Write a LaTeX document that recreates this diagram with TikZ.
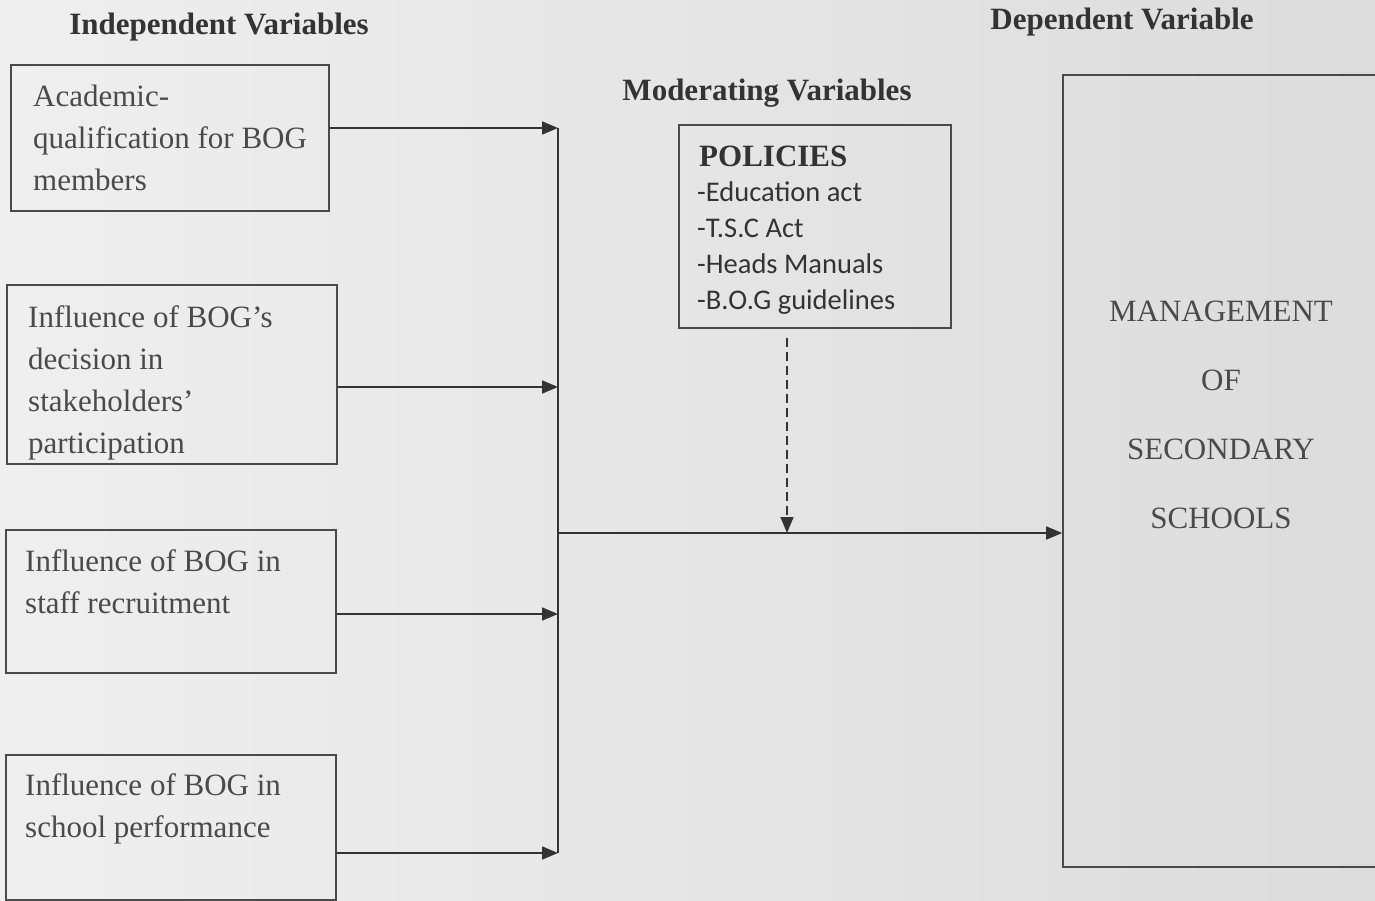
\documentclass[tikz,border=0pt]{standalone}
\usepackage{fontspec}
\setmainfont{Liberation Serif}
\newfontfamily\policyfont{Carlito}
\usepackage{tikz}
\usetikzlibrary{arrows.meta}
\definecolor{ink}{HTML}{333333}
\definecolor{faint}{HTML}{4A4A4A}
\definecolor{paperL}{HTML}{EFEFEF}
\definecolor{paperM}{HTML}{DEDEDE}
\definecolor{paperR}{HTML}{DCDCDC}
\tikzstyle{frame}=[rectangle, draw=faint, line width=1.6pt, inner sep=0pt]
\tikzstyle{boxtext}=[align=left, anchor=north west, inner sep=0pt, text=faint, font=\fontsize{31}{42}\selectfont]
\tikzstyle{listtext}=[align=left, anchor=north west, inner sep=0pt, text=ink, font=\policyfont\fontsize{28.5}{36}\selectfont]
\tikzstyle{heading}=[anchor=base, inner sep=0pt, text=ink, font=\bfseries\fontsize{31}{36}\selectfont]
\tikzstyle{link}=[draw=ink, line width=1.8pt, -{Triangle[length=16pt, width=13pt]}]

\begin{document}
\begin{tikzpicture}[x=1pt, y=-1pt]
                    \useasboundingbox (0,0) rectangle (1375,901);
                    \shade[left color=paperL, middle color=paperM, right color=paperR] (0,0) rectangle (1375,901);
                    \node[heading] (indep) at (219,35) {Independent Variables};
                    \node[heading] (moder) at (767,101) {Moderating Variables};
                    \node[heading] (dep) at (1122,30) {Dependent Variable};
                    \node[frame, minimum width=318, minimum height=146] (acad) at (170,138) {};
                    \node[frame, minimum width=330, minimum height=179] (decis) at (172,374.5) {};
                    \node[frame, minimum width=330, minimum height=143] (staff) at (171,601.5) {};
                    \node[frame, minimum width=330, minimum height=145] (perf) at (171,827.5) {};
                    \node[frame, minimum width=272, minimum height=203] (policies) at (815,226.5) {};
                    \node[frame, minimum width=337, minimum height=792] (mgmt) at (1231.5,471) {};
                    \node[boxtext] (acadtext) at (33,85) {Academic-\\qualification for BOG\\members};
                    \node[boxtext] (decistext) at (28,305) {Influence of BOG’s\\decision in\\stakeholders’\\participation};
                    \node[boxtext] (stafftext) at (25,549) {Influence of BOG in\\staff recruitment};
                    \node[boxtext] (perftext) at (25,773) {Influence of BOG in\\school performance};
                    \node[boxtext, text=ink, font=\bfseries\fontsize{31}{36}\selectfont] (poltitle) at (699,146) {POLICIES};
                    \node[listtext] (pollist) at (697,182) {-Education act\\-T.S.C Act\\-Heads Manuals\\-B.O.G guidelines};
                    \node[anchor=north, align=center, inner sep=0pt, text=faint, font=\fontsize{31}{69}\selectfont] (mgmttext) at (1221,301) {MANAGEMENT\\OF\\SECONDARY\\SCHOOLS};
                    \coordinate (j1) at (558,128);
                    \coordinate (j2) at (558,387);
                    \coordinate (j3) at (558,614);
                    \coordinate (j4) at (558,853);
                    \coordinate (jm) at (558,533);
                    \coordinate (md) at (787,533);
                    \draw[link] (acad.east |- j1) -- (j1);
                    \draw[link] (decis.east |- j2) -- (j2);
                    \draw[link] (staff.east |- j3) -- (j3);
                    \draw[link] (perf.east |- j4) -- (j4);
                    \draw[ink, line width=1.8pt] (j1) -- (j4);
                    \draw[link] (jm) -- (mgmt.west |- jm);
                    \draw[link, line width=1.4pt, dash pattern=on 9pt off 5pt] ([yshift=-9pt]policies.south -| md) -- (md);
                \end{tikzpicture}
\end{document}
